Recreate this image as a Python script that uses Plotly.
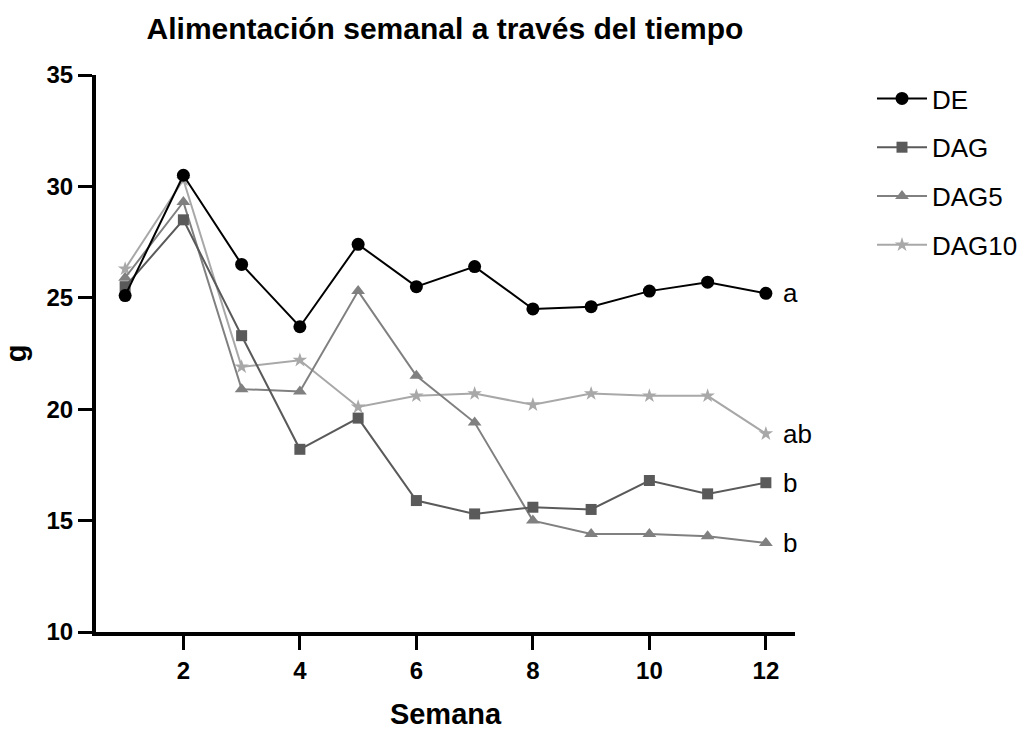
import plotly.graph_objects as go

weeks = [1, 2, 3, 4, 5, 6, 7, 8, 9, 10, 11, 12]
de = [25.1, 30.5, 26.5, 23.7, 27.4, 25.5, 26.4, 24.5, 24.6, 25.3, 25.7, 25.2]
dag = [25.5, 28.5, 23.3, 18.2, 19.6, 15.9, 15.3, 15.6, 15.5, 16.8, 16.2, 16.7]
dag5 = [25.9, 29.3, 20.9, 20.8, 25.3, 21.5, 19.4, 15.0, 14.4, 14.4, 14.3, 14.0]
dag10 = [26.3, 30.3, 21.9, 22.2, 20.1, 20.6, 20.7, 20.2, 20.7, 20.6, 20.6, 18.9]
series_names = ["DE", "DAG", "DAG5", "DAG10"]
letters = ["a", "b", "b", "ab"]

FONT = "Liberation Sans, Arial, sans-serif"
styles = [
    dict(color="#000000", symbol="circle", size=13),
    dict(color="#5a5a5a", symbol="square", size=11),
    dict(color="#808080", symbol="triangle-up", size=12),
    dict(color="#a8a8a8", symbol="star", size=11),
]
data = [de, dag, dag5, dag10]

fig = go.Figure()
order = [3, 2, 1, 0]
for i in order:
    s = styles[i]
    fig.add_trace(go.Scatter(
        x=weeks, y=data[i], mode="lines+markers", name=series_names[i],
        legendgroup=series_names[i], legendrank=i + 1,
        line=dict(color=s["color"], width=2),
        marker=dict(color=s["color"], symbol=s["symbol"], size=s["size"],
                    line=dict(width=0)),
    ))

for i, name in enumerate(series_names):
    fig.add_annotation(x=weeks[-1], y=data[i][-1], text=letters[i], showarrow=False,
                       xanchor="left", xshift=15,
                       font=dict(family=FONT, size=26, color="#000000"))

fig.update_layout(
    width=1035, height=730,
    margin=dict(l=96, r=240, t=75, b=98),
    plot_bgcolor="white", paper_bgcolor="white",
    title=dict(text="Alimentación semanal a través del tiempo", x=445 / 1035, xanchor="center",
               y=1 - 28 / 730, yanchor="middle",
               font=dict(family=FONT, size=30, color="#000000", weight="bold")),
    showlegend=True,
    legend=dict(x=(872 - 96) / 699, y=1.0, xanchor="left", yanchor="top",
                font=dict(family=FONT, size=26, color="#000000"),
                itemwidth=50, tracegroupgap=12, bgcolor="rgba(0,0,0,0)"),
    xaxis=dict(range=[0.5, 12.5], tickmode="array", tickvals=[2, 4, 6, 8, 10, 12],
               automargin=False,
               showline=True, linecolor="black", linewidth=4, mirror=False,
               ticks="outside", ticklen=14, tickwidth=3, tickcolor="black",
               showgrid=False, zeroline=False,
               tickfont=dict(family=FONT, size=24, color="#000000", weight="bold"),
               title=dict(text="Semana", standoff=22,
                          font=dict(family=FONT, size=29, color="#000000", weight="bold"))),
    yaxis=dict(range=[10, 35], tickmode="array", tickvals=[10, 15, 20, 25, 30, 35],
               automargin=False,
               showline=True, linecolor="black", linewidth=4,
               ticks="outside", ticklen=14, tickwidth=3, tickcolor="black",
               showgrid=False, zeroline=False,
               tickfont=dict(family=FONT, size=24, color="#000000", weight="bold"),
               title=dict(text="g", standoff=12,
                          font=dict(family=FONT, size=29, color="#000000", weight="bold"))),
)

fig.write_html("out.html")
